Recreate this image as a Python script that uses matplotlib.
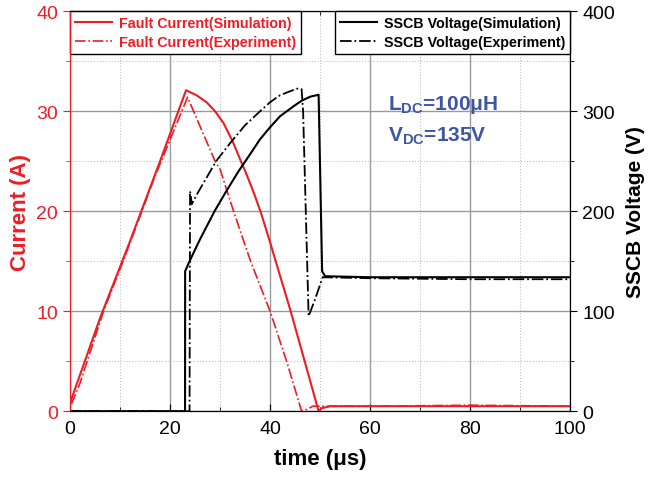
import matplotlib
matplotlib.use("Agg")
import matplotlib.pyplot as plt
from matplotlib.ticker import MultipleLocator

plt.rcParams['font.family'] = ['Liberation Sans', 'DejaVu Sans']
plt.rcParams['mathtext.fontset'] = 'custom'
plt.rcParams['mathtext.bf'] = 'Liberation Sans:bold'
plt.rcParams['mathtext.rm'] = 'Liberation Sans'

# fault current, simulation (A)
t_i_sim = [0, 6, 12, 18, 23.2, 25.3, 27.3, 29, 30.7, 32.5, 34, 35.2, 36.7, 38.2, 40, 41, 44, 46.8, 49.7, 50.3, 52, 100]
i_sim = [0.8, 9.3, 17.0, 25.0, 32.1, 31.6, 30.9, 30.0, 28.8, 27.0, 25.2, 23.8, 21.9, 19.8, 16.9, 15.2, 10.2, 5.2, 0.0, 0.3, 0.5, 0.5]

# fault current, experiment (A)
t_i_exp = [0, 0.05, 0.1, 2, 6.7, 11, 17, 23.5, 24.7, 29, 30, 32.7, 36.1, 40, 43.3, 46.3, 47.5, 48.5, 60, 80, 100]
i_exp = [14.0, 0.3, 0.5, 2.8, 10.0, 15.5, 23.5, 31.4, 30.0, 25.0, 24.2, 20.0, 15.0, 10.0, 5.0, 0.0, 0.2, 0.5, 0.5, 0.6, 0.5]

# SSCB voltage, simulation (V)
t_v_sim = [0, 23, 23.02, 23.9, 26, 28.9, 31, 33.7, 36, 38, 40, 42, 44.7, 46.3, 48, 49.7, 50.4, 51, 60, 80, 100]
v_sim = [0, 0, 140, 150, 172, 200, 218, 240, 257, 272, 284, 295, 305, 310.5, 314.5, 316.5, 140, 135, 134, 134, 134]

# SSCB voltage, experiment (V)
t_v_exp = [0, 23.9, 24.0, 24.15, 24.35, 25.5, 27.7, 29.2, 32, 35, 38, 40, 42, 44, 45.7, 46.3, 46.6, 47.7, 49, 50.5, 60, 80, 100]
v_exp = [0, 0, 220, 215, 207, 218, 237, 250, 268, 286, 300, 309, 316, 320, 323, 322, 300, 95, 112, 134, 133, 132, 132]

fig = plt.figure(figsize=(6.48, 4.89), dpi=100)
ax = fig.add_axes([0.108, 0.157, 0.772, 0.818])
ax2 = ax.twinx()

red = '#ee1c25'
ax.plot(t_i_sim, i_sim, color=red, lw=1.5, label='Fault Current(Simulation)')
ax.plot(t_i_exp, i_exp, color=red, lw=1.2, ls='-.', label='Fault Current(Experiment)')
ax2.plot(t_v_sim, v_sim, color='black', lw=1.5, label='SSCB Voltage(Simulation)')
ax2.plot(t_v_exp, v_exp, color='black', lw=1.3, ls='-.', label='SSCB Voltage(Experiment)')

ax.set_xlim(0, 100)
ax.set_ylim(0, 40)
ax2.set_ylim(0, 400)

ax.xaxis.set_major_locator(MultipleLocator(20))
ax.xaxis.set_minor_locator(MultipleLocator(10))
ax.yaxis.set_major_locator(MultipleLocator(10))
ax.yaxis.set_minor_locator(MultipleLocator(5))
ax2.yaxis.set_major_locator(MultipleLocator(100))
ax2.yaxis.set_minor_locator(MultipleLocator(50))

ax.grid(which='major', color='#999999', lw=1.0, ls='-')
ax.grid(which='minor', color='#c0c0c0', lw=0.8, ls=':')
ax.set_axisbelow(True)

ax.spines['left'].set_color(red)
ax2.spines['left'].set_color(red)
ax.tick_params(axis='y', which='both', colors=red, labelsize=14, direction='out')
ax.tick_params(axis='y', which='major', length=5)
ax.tick_params(axis='y', which='minor', length=3)
ax.tick_params(axis='x', which='both', top=True, direction='in', labelsize=14)
ax.tick_params(axis='x', which='major', length=5, pad=6)
ax.tick_params(axis='x', which='minor', length=3)
ax2.tick_params(axis='y', which='major', labelsize=14, length=5, direction='out')
ax2.tick_params(axis='y', which='minor', length=3, direction='out')

ax.set_xlabel('time (\u03bcs)', fontsize=16, fontweight='bold', labelpad=8)
ax.set_ylabel('Current (A)', fontsize=16, fontweight='bold', color=red, labelpad=4)
ax2.set_ylabel('SSCB Voltage (V)', fontsize=15, fontweight='bold', labelpad=8)

leg1 = ax.legend(loc='upper left', bbox_to_anchor=(0.0, 1.0), fancybox=False, edgecolor='black',
                 framealpha=1, borderaxespad=0, prop={'weight': 'bold', 'size': 10.3},
                 labelcolor=red, handlelength=2.6, borderpad=0.35, labelspacing=0.35,
                 handletextpad=0.5)
leg1.get_frame().set_linewidth(1.0)
leg2 = ax2.legend(loc='upper right', bbox_to_anchor=(1.0, 1.0), fancybox=False, edgecolor='black',
                  framealpha=1, borderaxespad=0, prop={'weight': 'bold', 'size': 10.3},
                  handlelength=2.6, borderpad=0.35, labelspacing=0.35, handletextpad=0.5)
leg2.get_frame().set_linewidth(1.0)

blue = '#3c55a5'
ax.text(63.5, 30.7, 'L$_{\\mathbf{DC}}$=100\u03bcH', color=blue, fontsize=15,
        fontweight='bold', va='center')
ax.text(63.5, 27.6, 'V$_{\\mathbf{DC}}$=135V', color=blue, fontsize=15, fontweight='bold', va='center')

fig.savefig('out.png', dpi=100)
